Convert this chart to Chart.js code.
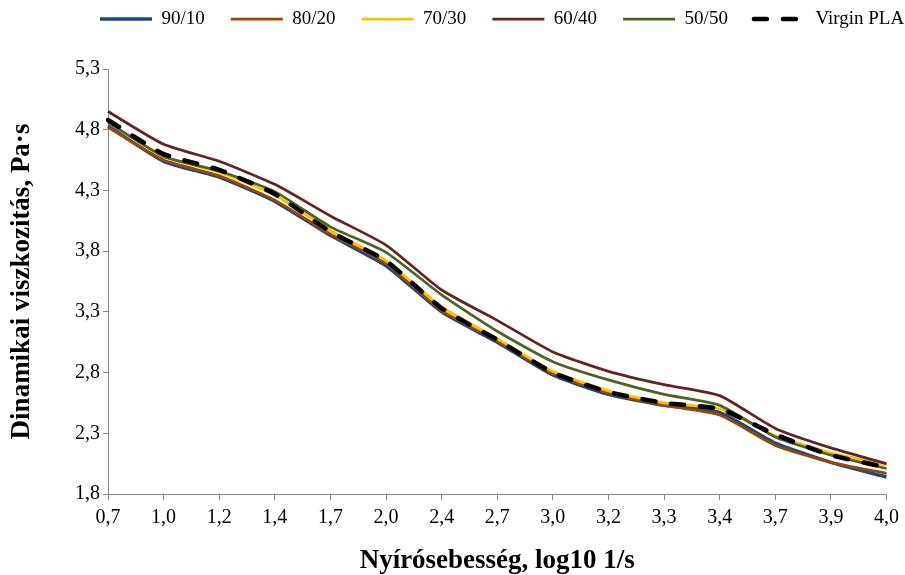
<!DOCTYPE html>
<html>
<head>
<meta charset="utf-8">
<script src="https://cdn.jsdelivr.net/npm/chart.js@4.4.1/dist/chart.umd.min.js"></script>
<style>
  html, body { margin: 0; padding: 0; background: #ffffff; }
  #wrap { width: 905px; height: 575px; }
</style>
</head>
<body>
<div id="wrap"><canvas id="c" width="905" height="575"></canvas></div>
<script>
// Shear rate categories (log10 1/s)
const shearRates = ['0,7', '1,0', '1,2', '1,4', '1,7', '2,0', '2,4', '2,7', '3,0', '3,2', '3,3', '3,4', '3,7', '3,9', '4,0'];

// Viscosity axis ticks
const yTickValues = [1.8, 2.3, 2.8, 3.3, 3.8, 4.3, 4.8, 5.3];

// Dynamic viscosity per blend ratio
const blend9010 = [4.83, 4.54, 4.41, 4.21, 3.93, 3.68, 3.30, 3.05, 2.78, 2.62, 2.53, 2.47, 2.22, 2.06, 1.94];
const blend8020 = [4.82, 4.55, 4.42, 4.22, 3.94, 3.70, 3.31, 3.06, 2.79, 2.63, 2.53, 2.45, 2.20, 2.06, 1.97];
const blend7030 = [4.86, 4.58, 4.45, 4.26, 3.97, 3.72, 3.34, 3.08, 2.81, 2.65, 2.55, 2.50, 2.28, 2.14, 2.04];
const blend6040 = [4.95, 4.68, 4.54, 4.35, 4.09, 3.85, 3.48, 3.23, 2.97, 2.81, 2.70, 2.61, 2.34, 2.18, 2.05];
const blend5050 = [4.86, 4.58, 4.46, 4.29, 4.00, 3.79, 3.44, 3.14, 2.89, 2.74, 2.62, 2.53, 2.27, 2.12, 2.01];
const virginPLA = [4.88, 4.60, 4.47, 4.27, 3.96, 3.72, 3.33, 3.07, 2.80, 2.64, 2.55, 2.50, 2.29, 2.12, 2.02];

const FONT = "'Liberation Serif', 'Times New Roman', serif";
const AXIS_GREY = '#868686';

function series(label, data, color, width, order, extra) {
  return Object.assign({
    label: label,
    data: data,
    borderColor: color,
    backgroundColor: color,
    borderWidth: width,
    pointRadius: 0,
    pointHoverRadius: 0,
    fill: false,
    tension: 0.18,
    order: order
  }, extra || {});
}

// Places the legend row at a fixed spot above the plot
const legendPlacement = {
  id: 'legendPlacement',
  afterLayout(chart) {
    const lg = chart.legend;
    if (!lg) return;
    const pad = lg.options.labels.padding;
    const fs = lg.options.labels.font.size;
    const h = lg.height;
    lg.top = 19 - pad - fs / 2;
    lg.bottom = lg.top + h;
    lg.left = 100 - pad;
    lg.right = chart.width + 200;
  }
};

Chart.defaults.font.family = FONT;
Chart.defaults.color = '#000000';

new Chart(document.getElementById('c'), {
  type: 'line',
  data: {
    labels: shearRates,
    datasets: [
      series('90/10', blend9010, '#1F497D', 3.5, 5),
      series('80/20', blend8020, '#984807', 2.75, 4),
      series('70/30', blend7030, '#FFC000', 2.75, 3),
      series('60/40', blend6040, '#632523', 2.75, 2),
      series('50/50', blend5050, '#4F6228', 2.75, 1),
      series('Virgin PLA', virginPLA, '#000000', 4.5, 0, { borderDash: [13, 16], borderCapStyle: 'round' })
    ]
  },
  options: {
    responsive: false,
    animation: false,
    devicePixelRatio: 1,
    layout: { padding: { top: 14, right: 13, bottom: 0, left: 0 } },
    plugins: {
      tooltip: { enabled: false },
      legend: {
        position: 'top',
        align: 'start',
        labels: {
          usePointStyle: true,
          pointStyle: 'line',
          pointStyleWidth: 52,
          padding: 26,
          color: '#000000',
          font: { size: 19, family: FONT },
          generateLabels(chart) {
            return chart.data.datasets.map((ds, i) => ({
              text: ds.label,
              fillStyle: ds.borderColor,
              strokeStyle: ds.borderColor,
              lineWidth: ds.borderWidth,
              lineDash: ds.borderDash || [],
              lineCap: ds.borderCapStyle || 'butt',
              pointStyle: 'line',
              fontColor: '#000000',
              hidden: false,
              datasetIndex: i
            }));
          }
        }
      }
    },
    scales: {
      x: {
        type: 'category',
        offset: false,
        grid: { display: true, drawOnChartArea: false, tickLength: 6, color: AXIS_GREY, lineWidth: 1 },
        border: { color: AXIS_GREY, width: 1 },
        ticks: { color: '#000000', font: { size: 20, family: FONT }, padding: 6, maxRotation: 0, autoSkip: false },
        title: {
          display: true,
          text: 'Nyírósebesség, log10 1/s',
          color: '#000000',
          font: { size: 27, weight: 'bold', family: FONT, lineHeight: 1 },
          padding: { top: 0, bottom: 0 }
        },
        afterFit(scale) { scale.height = 81; }
      },
      y: {
        min: 1.8,
        max: 5.3,
        afterBuildTicks(scale) { scale.ticks = yTickValues.map(v => ({ value: v })); },
        grid: { display: true, drawOnChartArea: false, tickLength: 5, color: AXIS_GREY, lineWidth: 1 },
        border: { color: AXIS_GREY, width: 1 },
        ticks: {
          color: '#000000',
          font: { size: 20, family: FONT },
          padding: 3,
          callback: v => Number(v).toFixed(1).replace('.', ',')
        },
        title: {
          display: true,
          text: 'Dinamikai viszkozitás, Pa·s',
          color: '#000000',
          font: { size: 27, weight: 'bold', family: FONT, lineHeight: 1 },
          padding: { top: 9, bottom: 0 }
        },
        afterFit(scale) { scale.width = 108; }
      }
    }
  },
  plugins: [legendPlacement]
});
</script>
</body>
</html>
